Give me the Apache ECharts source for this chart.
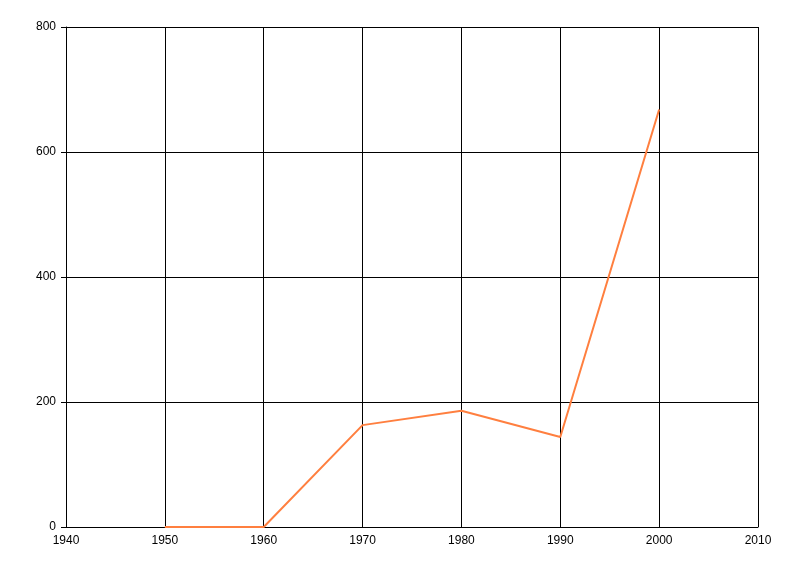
<!DOCTYPE html>
<html>
<head>
<meta charset="utf-8">
<script src="https://cdn.jsdelivr.net/npm/echarts@6/dist/echarts.min.js"></script>
<style>html,body{margin:0;padding:0;background:#fff;}#c{width:800px;height:576px;}</style>
</head>
<body>
<div id="c"></div>
<script>
const years = [1950, 1960, 1970, 1980, 1990, 2000];
const values = [0, 0, 163, 186, 144, 668];

const chart = echarts.init(document.getElementById('c'), null, {renderer: 'canvas'});
chart.setOption({
  animation: false,
  backgroundColor: '#ffffff',
  grid: {left: 66, right: 42, top: 27, bottom: 49, containLabel: false},
  xAxis: {
    type: 'value', min: 1940, max: 2010, interval: 10,
    axisLine: {show: true, lineStyle: {color: '#000', width: 1}},
    axisTick: {show: false},
    axisLabel: {color: '#000', fontFamily: 'Liberation Sans', fontSize: 12, margin: 8, formatter: v => String(v)},
    splitLine: {show: true, lineStyle: {color: '#000', width: 1}}
  },
  yAxis: {
    type: 'value', min: 0, max: 800, interval: 200,
    axisLine: {show: true, lineStyle: {color: '#000', width: 1}},
    axisTick: {show: true, length: 5, lineStyle: {color: '#000'}},
    axisLabel: {color: '#000', fontFamily: 'Liberation Sans', fontSize: 12, margin: 10, formatter: v => String(v)},
    splitLine: {show: true, lineStyle: {color: '#000', width: 1}}
  },
  series: [{
    type: 'line',
    data: years.map((y, i) => [y, values[i]]),
    showSymbol: false,
    lineStyle: {color: '#ff7f3f', width: 2},
    itemStyle: {color: '#ff7f3f'}
  }]
});
</script>
</body>
</html>
